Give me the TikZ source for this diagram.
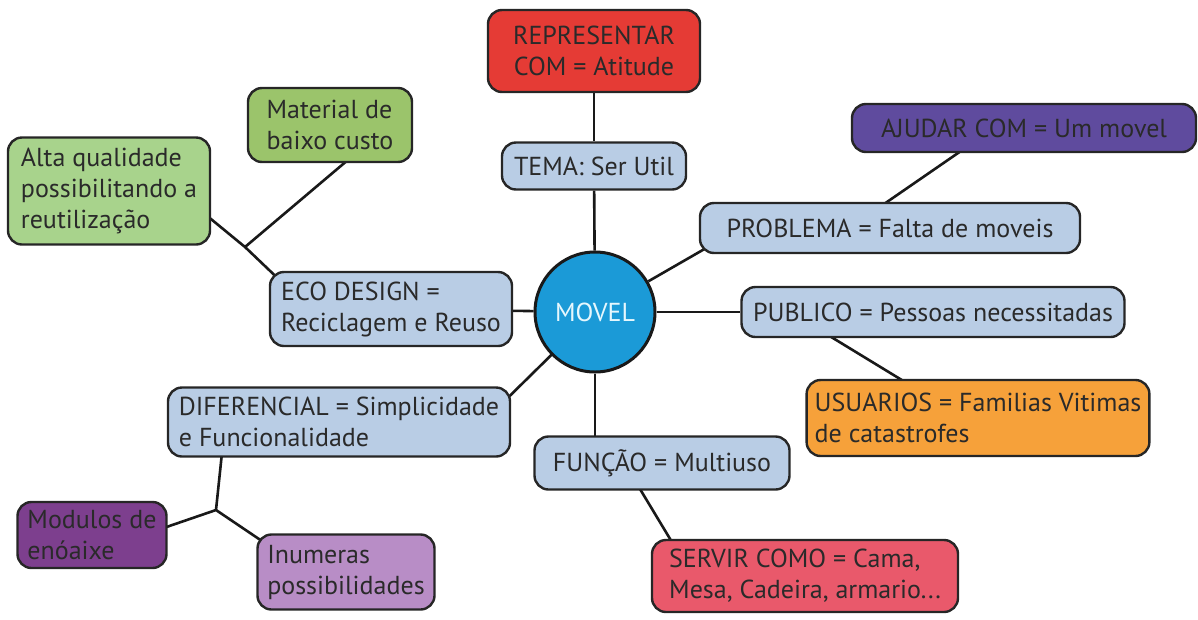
\documentclass[tikz,border=0pt]{standalone}
\usepackage{fontspec}
\setmainfont{PT Sans}
\usetikzlibrary{calc,backgrounds}
\definecolor{cred}{HTML}{E53B35}
\definecolor{cblue}{HTML}{B9CDE5}
\definecolor{cslate}{HTML}{5F4B9E}
\definecolor{ccirc}{HTML}{1B9AD7}
\definecolor{corange}{HTML}{F6A13A}
\definecolor{cpink}{HTML}{E9596B}
\definecolor{cgreen}{HTML}{9BC46B}
\definecolor{cgreenl}{HTML}{A8D38C}
\definecolor{cpurple}{HTML}{7D3F8E}
\definecolor{cpurplel}{HTML}{B88DC6}
\definecolor{ctext}{HTML}{2A2A2A}
\tikzset{
  box/.style={draw=black!85, line width=2.4pt, rounded corners=14pt,
    font=\fontsize{26}{31}\selectfont, text=ctext, align=left,
    inner xsep=8pt, inner ysep=4pt},
  link/.style={line width=2.6pt, draw=black!90}
}
\begin{document}
\begin{tikzpicture}[x=1pt,y=-1pt]
\useasboundingbox (0,0) rectangle (1198,619);
% nodes
\node[box, fill=cred, minimum width=212pt, minimum height=82pt, align=center] (rep) at (594,51) {REPRESENTAR\\COM = Atitude};
\node[box, fill=cblue, minimum width=184pt, minimum height=47pt] (tema) at (594,166) {TEMA: Ser Util};
\node[box, fill=cslate, minimum width=344pt, minimum height=48pt] (ajudar) at (1024,128) {AJUDAR COM = Um movel};
\node[box, fill=cblue, minimum width=380pt, minimum height=50pt] (prob) at (890,228) {PROBLEMA = Falta de moveis};
\node[circle, draw=black!90, line width=3pt, fill=ccirc, minimum size=120pt, text=white!90!cyan, font=\fontsize{26}{30}\selectfont] (movel) at (595,312) {MOVEL};
\node[box, fill=cblue, minimum width=383pt, minimum height=50pt] (pub) at (933,312) {PUBLICO = Pessoas necessitadas};
\node[box, fill=corange, minimum width=340pt, minimum height=76pt] (usu) at (978,418) {USUARIOS = Familias Vitimas\\de catastrofes};
\node[box, fill=cblue, minimum width=255pt, minimum height=53pt] (func) at (662,463) {FUNÇÃO = Multiuso};
\node[box, fill=cpink, minimum width=306pt, minimum height=72pt] (serv) at (805,576) {SERVIR COMO = Cama,\\Mesa, Cadeira, armario...};
\node[box, fill=cblue, minimum width=342pt, minimum height=69pt] (dif) at (339,422) {DIFERENCIAL = Simplicidade\\e Funcionalidade};
\node[box, fill=cblue, minimum width=242pt, minimum height=74pt] (eco) at (391,309) {ECO DESIGN =\\Reciclagem e Reuso};
\node[box, fill=cgreen, minimum width=164pt, minimum height=74pt] (mat) at (330,125) {Material de\\baixo custo};
\node[box, fill=cgreenl, minimum width=202pt, minimum height=107pt] (alta) at (109,191) {Alta qualidade\\possibilitando a\\reutilização};
\node[box, fill=cpurple, minimum width=149pt, minimum height=66pt] (mod) at (92,535) {Modulos de\\enóaixe};
\node[box, fill=cpurplel, minimum width=177pt, minimum height=75pt] (inu) at (346,572) {Inumeras\\possibilidades};
% junctions
\coordinate (j1) at (245,247);
\coordinate (j2) at (216,510);
% connectors
\begin{scope}[on background layer]
\draw[link] (rep) -- (tema);
\draw[link] (tema) -- (movel);
\draw[link] (movel) -- ($(prob.south west)+(14,-10)$);
\draw[link] ($(prob.north)+(-10,5)$) -- ($(ajudar.south)+(-59,-5)$);
\draw[link] (movel) -- (pub);
\draw[link] ($(pub.south)+(-108,-5)$) -- ($(usu.north)+(-70,5)$);
\draw[link] (movel) -- ($(func.north)+(-67,5)$);
\draw[link] ($(func.south)+(-24,-5)$) -- ($(serv.north)+(-132,5)$);
\draw[link] (movel.center) -- ($(dif.north east)+(-10,18)$);
\draw[link] (movel) -- (eco);
\draw[link] ($(alta.east)+(-10,20)$) -- (j1) -- ($(eco.north west)+(20,18)$);
\draw[link] (j1) -- ($(mat.south)+(20,-5)$);
\draw[link] ($(dif.south)+(-117,-5)$) -- (j2);
\draw[link] ($(mod.east)+(-10,-5)$) -- (j2);
\draw[link] (j2) -- ($(inu.north west)+(12,12)$);
\end{scope}
\end{tikzpicture}
\end{document}
